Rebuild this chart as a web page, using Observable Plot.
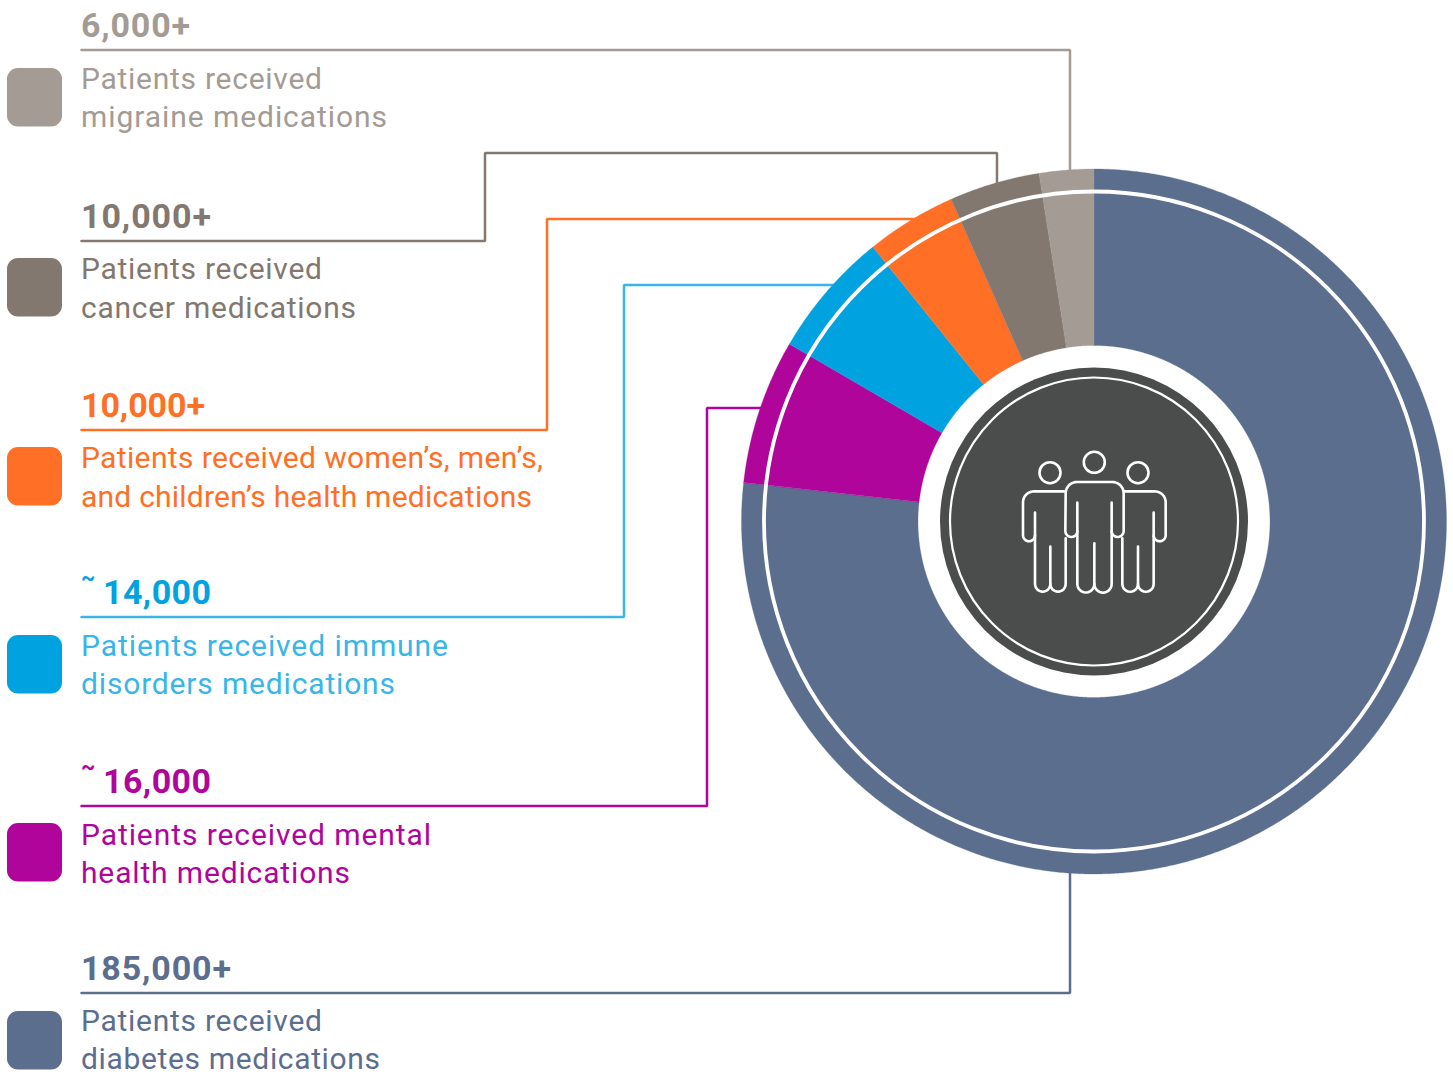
<!DOCTYPE html>
<html>
<head>
<meta charset="utf-8">
<script src="https://cdn.jsdelivr.net/npm/d3@7"></script>
<script src="https://cdn.jsdelivr.net/npm/@observablehq/plot@0.6"></script>
<style>
html,body{margin:0;padding:0;background:#fff;overflow:hidden}
svg{display:block}
svg text{font-family:Roboto,sans-serif}
</style>
</head>
<body>
<div id="chart"></div>
<script>
// ---- data, clockwise from 12 o'clock ----
const categories = ["diabetes", "mental", "immune", "womens", "cancer", "migraine"];
const patients = [185000, 16000, 14000, 10000, 10000, 6000];
const colours = ["#5c6e8e", "#b0059b", "#00a3e0", "#ff6f26", "#83786f", "#a39b94"];
const textColours = ["#5c6e8e", "#b0059b", "#38b6e8", "#ff6f26", "#83786f", "#a39b94"];
const numberLabels = ["185,000+", "~16,000", "~14,000", "10,000+", "10,000+", "6,000+"];
const firstLines = ["Patients received", "Patients received mental", "Patients received immune", "Patients received women\u2019s, men\u2019s,", "Patients received", "Patients received"];
const secondLines = ["diabetes medications", "health medications", "disorders medications", "and children\u2019s health medications", "cancer medications", "migraine medications"];

// ---- page layout (pixels) ----
const W = 1453, H = 1074;
const cx = 1093.5, cy = 521;
const rOuter = 352.5, rInner = 176;
const textX = 80.5;
const rowTop = [1011, 823, 635, 447, 258, 68];
const rowNum = [969, 781.5, 592.5, 406, 217, 26];
const line1 = [1021, 835, 646, 458, 269, 79];
const line2 = [1059, 873, 684, 497, 308, 117];
const numWidths = [150, 108, 108, 124, 130, 109];
const l1Widths = [241, 350, 367, 462, 241, 241];
const l2Widths = [299, 269, 314, 451, 275, 306];
const leaders = [
  [[81,992.5],[1069.5,992.5],[1069.5,872]],
  [[81,805.5],[706.5,805.5],[706.5,407.5],[762,407.5]],
  [[81,616.5],[623.5,616.5],[623.5,284.5],[836,284.5]],
  [[81,429.5],[546.5,429.5],[546.5,218.5],[925,218.5]],
  [[81,240.5],[484.5,240.5],[484.5,152.5],[996.5,152.5],[996.5,185]],
  [[81,49.5],[1069.5,49.5],[1069.5,172]]
];

// pie geometry derived from the values
const pie = d3.pie().sort(null).value(d => d)(patients);
const sectorPts = [];
pie.forEach((s, i) => {
  const n = Math.max(8, Math.ceil((s.endAngle - s.startAngle) * 180 / Math.PI * 3));
  const as = d3.range(n + 1).map(k => s.startAngle + (s.endAngle - s.startAngle) * k / n);
  const push = (a, r) => sectorPts.push({id: categories[i], c: colours[i], x: cx + r * Math.sin(a), y: cy - r * Math.cos(a)});
  as.forEach(a => push(a, rOuter));
  as.slice().reverse().forEach(a => push(a, rInner));
});

const leaderPts = leaders.flatMap((l, i) => l.map(([x, y]) => ({id: i, c: textColours[i] , x, y})));
const rows = categories.map((c, i) => ({c: textColours[i], fillc: colours[i], num: numberLabels[i], l1: firstLines[i], l2: secondLines[i],
  top: rowTop[i], yn: rowNum[i], y1: line1[i], y2: line2[i]}));

// ---- people icon, sampled outlines ----
function icon() {
  const z = (x, y) => [999.5 + x / 3, 429.5 + y / 3];
  const arc = (ccx, ccy, r, a0, a1) => d3.range(13).map(k => {
    const a = (a0 + (a1 - a0) * k / 12) * Math.PI / 180;
    return z(ccx + r * Math.cos(a), ccy + r * Math.sin(a));
  });
  const paths = [];
  const legs = (xa, xb, xc, topA, topC, crotch) => {
    const rU1 = (xb - xa) / 2, rU2 = (xc - xb) / 2, yb = 462;
    paths.push([z(xa, topA), ...arc(xa + rU1, yb, rU1, 180, 0), ...arc(xb + rU2, yb, rU2, 180, 0), z(xc, topC)]);
    paths.push([z(xb, crotch), z(xb, yb)]);
  };
  legs(232, 283, 335, 218, 218, 340);
  paths.push([...arc(214, 303, 18, 0, 180), ...arc(231, 190, 34, 180, 270), ...arc(337, 190, 34, 270, 360), ...arc(353, 303, 18, 0, 180)]);
  legs(105, 151, 197, 248, 325, 350);
  paths.push([...arc(87, 316, 18, 0, 180), ...arc(102, 217, 33, 180, 270), z(197, 184)]);
  legs(367, 414, 461, 325, 248, 350);
  paths.push([z(372, 184), ...arc(464, 217, 33, 270, 360), ...arc(479, 316, 18, 0, 180)]);
  return paths.flatMap((p, id) => p.map(([x, y]) => ({id, x, y})));
}
const iconPts = icon();
const heads = [{x: 1049.5, y: 472.2}, {x: 1093.8, y: 461.8}, {x: 1137.5, y: 472.2}];

const chart = Plot.plot({
  width: W, height: H,
  margin: 0,
  x: {domain: [0, W], range: [0, W], axis: null},
  y: {domain: [0, H], range: [0, H], axis: null},
  color: {type: "identity"},
  style: {background: "#fff"},
  marks: [
    Plot.line(leaderPts, {x: "x", y: "y", z: "id", stroke: "c", strokeWidth: 2.5, strokeLinejoin: "miter"}),
    Plot.line(sectorPts, {x: "x", y: "y", z: "id", fill: "c", stroke: "c", strokeWidth: 0.3, curve: "linear-closed"}),
    Plot.dot([{x: cx, y: cy}], {x: "x", y: "y", r: 330, stroke: "#fff", strokeWidth: 3.8, fill: "none"}),
    Plot.dot([{x: cx, y: cy}], {x: "x", y: "y", r: 154, fill: "#4b4d4c", stroke: "none"}),
    Plot.dot([{x: cx, y: cy}], {x: "x", y: "y", r: 144, stroke: "#fff", strokeWidth: 2.2, fill: "none"}),
    Plot.dot(heads, {x: "x", y: "y", r: 10.5, stroke: "#fff", strokeWidth: 2.6, fill: "none"}),
    Plot.line(iconPts, {x: "x", y: "y", z: "id", stroke: "#fff", strokeWidth: 2.6, strokeLinejoin: "round", strokeLinecap: "round"}),
    Plot.rect(rows, {x1: () => 7, x2: () => 62, y1: "top", y2: d => d.top + 58.5, fill: "fillc", rx: 11}),
    Plot.text(rows, {x: () => textX, y: "yn", text: "num", fill: "fillc", textAnchor: "start", fontSize: 34, fontWeight: 700}),
    Plot.text(rows, {x: () => textX, y: "y1", text: "l1", fill: "c", textAnchor: "start", fontSize: 30, fontWeight: 400}),
    Plot.text(rows, {x: () => textX, y: "y2", text: "l2", fill: "c", textAnchor: "start", fontSize: 30, fontWeight: 400})
  ]
});
document.getElementById("chart").append(chart);

// fit each text line to the width it has in the picture; raise the small tilde
const textGroups = d3.select(chart).selectAll("g[aria-label='text']").nodes();
[numWidths, l1Widths, l2Widths].forEach((ws, g) => {
  d3.select(textGroups[g]).selectAll("text").each(function(_, k) {
    const t = this.textContent;
    if (t[0] === "~") {
      this.textContent = "";
      const a = document.createElementNS("http://www.w3.org/2000/svg", "tspan");
      a.textContent = "~"; a.setAttribute("font-size", 22); a.setAttribute("dy", "-19");
      const b = document.createElementNS("http://www.w3.org/2000/svg", "tspan");
      b.textContent = t.slice(1); b.setAttribute("x", 22); b.setAttribute("dy", "19");
      b.setAttribute("textLength", 108);
      this.append(a, b);
    } else {
      this.setAttribute("textLength", ws[k]);
    }
  });
});
</script>
</body>
</html>
